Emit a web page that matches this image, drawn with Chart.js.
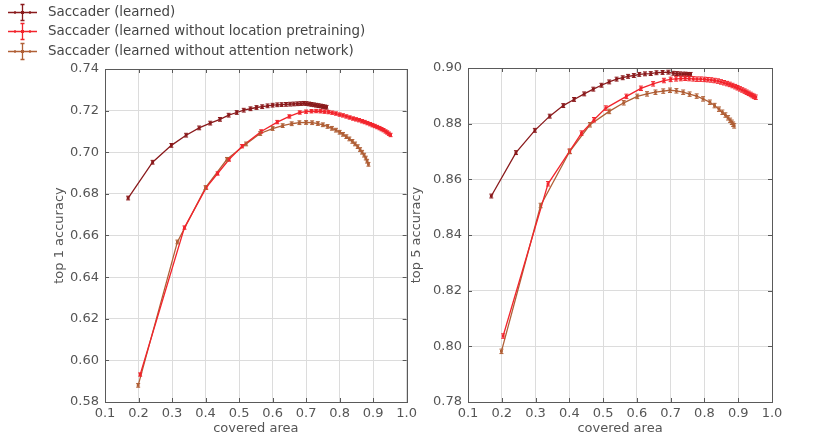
<!DOCTYPE html>
<html>
<head>
<meta charset="utf-8">
<script src="https://cdn.jsdelivr.net/npm/chart.js@4.4.1/dist/chart.umd.min.js"></script>
<style>
  body { margin: 0; background: #fff; width: 831px; height: 436px; overflow: hidden; position: relative; font-family: "DejaVu Sans", sans-serif; }
  #c1 { position: absolute; left: 0; top: 0; }
  #c2 { position: absolute; left: 405px; top: 0; }
  #legend { position: absolute; left: 0; top: 2px; }
  .row { position: relative; height: 19.4px; }
  .row canvas { position: absolute; left: 0; top: 0; }
  .row span { position: absolute; left: 48px; top: 1px; font-size: 13.4px; color: #444; white-space: nowrap; line-height: 17px; }
</style>
</head>
<body>
<canvas id="c1" width="421" height="436"></canvas>
<canvas id="c2" width="426" height="436"></canvas>
<div id="legend"></div>
<script>
// series names + colours
const seriesNames = ['Saccader (learned)', 'Saccader (learned without location pretraining)', 'Saccader (learned without attention network)'];
const seriesColors = ['#8a1a1c', '#f2242c', '#b05f36'];

const xTicks = [0.1, 0.2, 0.3, 0.4, 0.5, 0.6, 0.7, 0.8, 0.9, 1.0];
const top1Ticks = [0.58, 0.60, 0.62, 0.64, 0.66, 0.68, 0.70, 0.72, 0.74];
const top5Ticks = [0.78, 0.80, 0.82, 0.84, 0.86, 0.88, 0.90];

// top 1 accuracy
const learnedArea1 = [0.169, 0.242, 0.298, 0.342, 0.381, 0.414, 0.443, 0.469, 0.493, 0.514, 0.534, 0.552, 0.569, 0.585, 0.600, 0.614, 0.627, 0.640, 0.652, 0.663, 0.674, 0.684, 0.693, 0.701, 0.709, 0.716, 0.723, 0.730, 0.737, 0.744, 0.750, 0.756, 0.761];
const learnedAcc1 = [0.6780, 0.6952, 0.7033, 0.7082, 0.7117, 0.7140, 0.7158, 0.7178, 0.7191, 0.7202, 0.7209, 0.7215, 0.7219, 0.7223, 0.7226, 0.7228, 0.7229, 0.7230, 0.7231, 0.7232, 0.7233, 0.7234, 0.7235, 0.7234, 0.7232, 0.7230, 0.7228, 0.7226, 0.7224, 0.7222, 0.7220, 0.7218, 0.7216];
const noLocArea1 = [0.205, 0.337, 0.402, 0.436, 0.470, 0.509, 0.566, 0.614, 0.650, 0.681, 0.700, 0.716, 0.730, 0.743, 0.755, 0.767, 0.778, 0.789, 0.800, 0.810, 0.820, 0.830, 0.840, 0.849, 0.858, 0.867, 0.875, 0.883, 0.891, 0.898, 0.905, 0.912, 0.919, 0.925, 0.931, 0.937, 0.942, 0.947, 0.952];
const noLocAcc1 = [0.5932, 0.6638, 0.6830, 0.6898, 0.6965, 0.7029, 0.7100, 0.7145, 0.7172, 0.7191, 0.7195, 0.7197, 0.7198, 0.7197, 0.7195, 0.7193, 0.7190, 0.7186, 0.7181, 0.7177, 0.7172, 0.7167, 0.7162, 0.7158, 0.7154, 0.7149, 0.7145, 0.7140, 0.7135, 0.7130, 0.7126, 0.7121, 0.7116, 0.7111, 0.7106, 0.7100, 0.7095, 0.7089, 0.7083];
const noAttArea1 = [0.199, 0.316, 0.400, 0.464, 0.521, 0.563, 0.600, 0.630, 0.657, 0.680, 0.700, 0.718, 0.735, 0.750, 0.764, 0.777, 0.789, 0.800, 0.810, 0.820, 0.829, 0.838, 0.846, 0.854, 0.861, 0.867, 0.873, 0.878, 0.882, 0.886];
const noAttAcc1 = [0.5880, 0.6569, 0.6830, 0.6966, 0.7040, 0.7090, 0.7114, 0.7128, 0.7137, 0.7142, 0.7143, 0.7142, 0.7138, 0.7132, 0.7124, 0.7115, 0.7106, 0.7096, 0.7086, 0.7075, 0.7064, 0.7052, 0.7040, 0.7027, 0.7013, 0.7000, 0.6986, 0.6972, 0.6957, 0.6942];

// top 5 accuracy
const learnedArea5 = [0.169, 0.242, 0.298, 0.342, 0.382, 0.414, 0.444, 0.471, 0.495, 0.518, 0.540, 0.558, 0.574, 0.591, 0.607, 0.624, 0.641, 0.658, 0.676, 0.693, 0.708, 0.718, 0.727, 0.736, 0.744, 0.752, 0.759];
const learnedAcc5 = [0.8540, 0.8696, 0.8776, 0.8827, 0.8865, 0.8887, 0.8907, 0.8924, 0.8938, 0.8950, 0.8960, 0.8965, 0.8970, 0.8973, 0.8977, 0.8979, 0.8980, 0.8983, 0.8984, 0.8985, 0.8981, 0.8980, 0.8979, 0.8978, 0.8978, 0.8977, 0.8977];
const noLocArea5 = [0.204, 0.337, 0.401, 0.436, 0.473, 0.508, 0.569, 0.612, 0.648, 0.680, 0.700, 0.716, 0.730, 0.743, 0.755, 0.767, 0.778, 0.789, 0.800, 0.810, 0.820, 0.830, 0.840, 0.849, 0.858, 0.867, 0.875, 0.883, 0.891, 0.898, 0.905, 0.912, 0.919, 0.925, 0.931, 0.937, 0.942, 0.947, 0.952];
const noLocAcc5 = [0.8037, 0.8584, 0.8701, 0.8766, 0.8814, 0.8856, 0.8898, 0.8927, 0.8943, 0.8955, 0.8959, 0.8961, 0.8962, 0.8963, 0.8962, 0.8961, 0.8960, 0.8960, 0.8959, 0.8958, 0.8957, 0.8955, 0.8953, 0.8950, 0.8947, 0.8944, 0.8941, 0.8937, 0.8933, 0.8929, 0.8925, 0.8921, 0.8917, 0.8913, 0.8909, 0.8905, 0.8901, 0.8898, 0.8895];
const noAttArea5 = [0.199, 0.315, 0.401, 0.461, 0.518, 0.561, 0.601, 0.630, 0.655, 0.678, 0.698, 0.717, 0.737, 0.756, 0.777, 0.796, 0.816, 0.830, 0.843, 0.853, 0.862, 0.870, 0.876, 0.881, 0.885, 0.888];
const noAttAcc5 = [0.7982, 0.8506, 0.8700, 0.8796, 0.8844, 0.8875, 0.8898, 0.8907, 0.8913, 0.8917, 0.8920, 0.8918, 0.8913, 0.8906, 0.8899, 0.8889, 0.8877, 0.8865, 0.8852, 0.8841, 0.8831, 0.8821, 0.8812, 0.8805, 0.8798, 0.8792];

// half height of the error bars, per series
const errTop1 = [0.0009, 0.0008, 0.0009];
const errTop5 = [0.0007, 0.0008, 0.0008];

function toPoints(xs, ys) {
  return xs.map((v, i) => ({ x: v, y: ys[i] }));
}

function makeDataset(k, xs, ys, err) {
  return {
    label: seriesNames[k],
    data: toPoints(xs, ys),
    err: err,
    showLine: true,
    borderColor: seriesColors[k],
    backgroundColor: seriesColors[k],
    borderWidth: 1.3,
    pointStyle: 'rect',
    pointRadius: 2,
    pointBorderWidth: 0,
    tension: 0
  };
}

// error bars, box and inward ticks like matplotlib
const framePlugin = {
  id: 'frame',
  afterDatasetsDraw(chart) {
    const ctx = chart.ctx;
    const a = chart.chartArea;
    const xs = chart.scales.x, ys = chart.scales.y;
    ctx.save();
    ctx.lineWidth = 1;
    chart.data.datasets.forEach(ds => {
      ctx.strokeStyle = ds.borderColor;
      ds.data.forEach(p => {
        const px = xs.getPixelForValue(p.x);
        const y1 = ys.getPixelForValue(p.y - ds.err);
        const y2 = ys.getPixelForValue(p.y + ds.err);
        ctx.beginPath();
        ctx.moveTo(px, y1); ctx.lineTo(px, y2);
        ctx.moveTo(px - 2, y1); ctx.lineTo(px + 2, y1);
        ctx.moveTo(px - 2, y2); ctx.lineTo(px + 2, y2);
        ctx.stroke();
      });
    });
    ctx.strokeStyle = '#5a5a5a';
    ctx.strokeRect(Math.round(a.left) + 0.5, Math.round(a.top) + 0.5, Math.round(a.width), Math.round(a.height));
    ctx.beginPath();
    xs.ticks.forEach(t => {
      const px = Math.round(xs.getPixelForValue(t.value)) + 0.5;
      ctx.moveTo(px, a.bottom); ctx.lineTo(px, a.bottom - 4);
      ctx.moveTo(px, a.top); ctx.lineTo(px, a.top + 4);
    });
    ys.ticks.forEach(t => {
      const py = Math.round(ys.getPixelForValue(t.value)) + 0.5;
      ctx.moveTo(a.left, py); ctx.lineTo(a.left + 4, py);
      ctx.moveTo(a.right, py); ctx.lineTo(a.right - 4, py);
    });
    ctx.stroke();
    ctx.restore();
  }
};

function makeChart(id, datasets, yTicks, yTitle, pad, yWidth) {
  return new Chart(document.getElementById(id), {
    type: 'scatter',
    data: { datasets: datasets },
    plugins: [framePlugin],
    options: {
      responsive: false,
      animation: false,
      layout: { padding: pad },
      plugins: { legend: { display: false }, tooltip: { enabled: false } },
      scales: {
        x: {
          type: 'linear',
          min: xTicks[0], max: xTicks[xTicks.length - 1],
          afterBuildTicks: s => { s.ticks = xTicks.map(v => ({ value: v })); },
          afterFit: s => { s.height = 34; },
          grid: { color: '#dcdcdc', drawTicks: false },
          border: { display: false },
          ticks: { padding: 4, color: '#555', font: { family: 'DejaVu Sans', size: 13 }, callback: v => v.toFixed(1) },
          title: { display: true, text: 'covered area', color: '#555', padding: 0, font: { family: 'DejaVu Sans', size: 13 } }
        },
        y: {
          type: 'linear',
          min: yTicks[0], max: yTicks[yTicks.length - 1],
          afterBuildTicks: s => { s.ticks = yTicks.map(v => ({ value: v })); },
          afterFit: s => { s.width = yWidth; },
          grid: { color: '#dcdcdc', drawTicks: false },
          border: { display: false },
          ticks: { padding: 6, color: '#555', font: { family: 'DejaVu Sans', size: 13 }, callback: v => v.toFixed(2) },
          title: { display: true, text: yTitle, color: '#555', padding: { top: 8, bottom: 0 }, font: { family: 'DejaVu Sans', size: 13 } }
        }
      }
    }
  });
}

makeChart('c1', [
  makeDataset(0, learnedArea1, learnedAcc1, errTop1[0]),
  makeDataset(1, noLocArea1, noLocAcc1, errTop1[1]),
  makeDataset(2, noAttArea1, noAttAcc1, errTop1[2])
], top1Ticks, 'top 1 accuracy', { left: 44, top: 69, right: 12, bottom: 0 }, 61);

makeChart('c2', [
  makeDataset(0, learnedArea5, learnedAcc5, errTop5[0]),
  makeDataset(1, noLocArea5, noLocAcc5, errTop5[1]),
  makeDataset(2, noAttArea5, noAttAcc5, errTop5[2])
], top5Ticks, 'top 5 accuracy', { left: -4, top: 68, right: 59, bottom: 0 }, 67);

// legend with errorbar icons
const legend = document.getElementById('legend');
seriesNames.forEach((name, k) => {
  const row = document.createElement('div');
  row.className = 'row';
  const icon = document.createElement('canvas');
  icon.width = 42; icon.height = 20;
  const g = icon.getContext('2d');
  g.strokeStyle = seriesColors[k];
  g.fillStyle = seriesColors[k];
  g.lineWidth = 1.3;
  g.beginPath();
  g.moveTo(8, 10.5); g.lineTo(37, 10.5);
  g.moveTo(22.5, 2.5); g.lineTo(22.5, 18.5);
  g.moveTo(20.5, 2.5); g.lineTo(24.5, 2.5);
  g.moveTo(20.5, 18.5); g.lineTo(24.5, 18.5);
  g.moveTo(15, 9); g.lineTo(15, 12);
  g.moveTo(30, 9); g.lineTo(30, 12);
  g.stroke();
  g.fillRect(21, 9, 3, 3);
  const label = document.createElement('span');
  label.textContent = name;
  row.appendChild(icon);
  row.appendChild(label);
  legend.appendChild(row);
});
</script>
</body>
</html>
